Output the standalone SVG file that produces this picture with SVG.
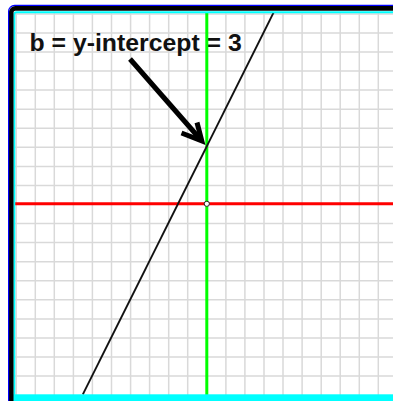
<svg xmlns="http://www.w3.org/2000/svg" width="393" height="401" viewBox="0 0 393 401">
<style>
.grid line{stroke:#d9d9d9;stroke-width:1.5}
.lbl{font-family:"Liberation Sans",Arial,sans-serif;font-weight:bold;font-size:24.8px;fill:#111}
.arrow{fill:none;stroke:#000;stroke-width:5}
</style>
<rect x="0" y="0" width="393" height="401" fill="#fff"/>
<g id="grid" class="grid">
<line x1="15" y1="13.9" x2="393" y2="13.9"/>
<line x1="15" y1="33" x2="393" y2="33"/>
<line x1="15" y1="52" x2="393" y2="52"/>
<line x1="15" y1="71.1" x2="393" y2="71.1"/>
<line x1="15" y1="90.1" x2="393" y2="90.1"/>
<line x1="15" y1="109.2" x2="393" y2="109.2"/>
<line x1="15" y1="128.2" x2="393" y2="128.2"/>
<line x1="15" y1="147.3" x2="393" y2="147.3"/>
<line x1="15" y1="166.4" x2="393" y2="166.4"/>
<line x1="15" y1="185.4" x2="393" y2="185.4"/>
<line x1="15" y1="223.6" x2="393" y2="223.6"/>
<line x1="15" y1="242.6" x2="393" y2="242.6"/>
<line x1="15" y1="261.7" x2="393" y2="261.7"/>
<line x1="15" y1="280.8" x2="393" y2="280.8"/>
<line x1="15" y1="299.8" x2="393" y2="299.8"/>
<line x1="15" y1="318.9" x2="393" y2="318.9"/>
<line x1="15" y1="337.9" x2="393" y2="337.9"/>
<line x1="15" y1="357" x2="393" y2="357"/>
<line x1="15" y1="376" x2="393" y2="376"/>
<line x1="16.2" y1="13" x2="16.2" y2="395"/>
<line x1="35.3" y1="13" x2="35.3" y2="395"/>
<line x1="54.3" y1="13" x2="54.3" y2="395"/>
<line x1="73.4" y1="13" x2="73.4" y2="395"/>
<line x1="92.4" y1="13" x2="92.4" y2="395"/>
<line x1="111.5" y1="13" x2="111.5" y2="395"/>
<line x1="130.6" y1="13" x2="130.6" y2="395"/>
<line x1="149.6" y1="13" x2="149.6" y2="395"/>
<line x1="168.7" y1="13" x2="168.7" y2="395"/>
<line x1="187.7" y1="13" x2="187.7" y2="395"/>
<line x1="225.9" y1="13" x2="225.9" y2="395"/>
<line x1="244.9" y1="13" x2="244.9" y2="395"/>
<line x1="264" y1="13" x2="264" y2="395"/>
<line x1="283" y1="13" x2="283" y2="395"/>
<line x1="302.1" y1="13" x2="302.1" y2="395"/>
<line x1="321.2" y1="13" x2="321.2" y2="395"/>
<line x1="340.2" y1="13" x2="340.2" y2="395"/>
<line x1="359.3" y1="13" x2="359.3" y2="395"/>
<line x1="378.3" y1="13" x2="378.3" y2="395"/>
</g>
<g id="label">
<text class="lbl" x="29.5" y="51">b = y-intercept = 3</text>
</g>
<g id="axes">
<line id="x-axis" x1="15" y1="203.8" x2="393" y2="203.8" stroke="#ff0000" stroke-width="3"/>
<line id="y-axis" x1="206.8" y1="13" x2="206.8" y2="395" stroke="#00ff00" stroke-width="3"/>
</g>
<g id="connectors">
<line id="graph-line" x1="82.8" y1="394.5" x2="273.6" y2="12.5" stroke="#111" stroke-width="1.8"/>
<path class="arrow" d="M130,59 L201,140"/>
<path class="arrow" d="M181.5,133 L201.8,140.8 L197,122.5" stroke-linejoin="miter"/>
</g>
<g id="origin">
<circle cx="206.8" cy="203.8" r="2.6" fill="#fff" stroke="#222" stroke-width="1"/>
</g>
<g id="frame">
<rect x="13" y="394.3" width="380" height="7" fill="#00ffff"/>
<rect x="14.3" y="12.3" width="400" height="400" rx="2" fill="none" stroke="#00ffff" stroke-width="2"/>
<rect x="11.2" y="8.4" width="400" height="420" rx="4" fill="none" stroke="#000" stroke-width="4.6"/>
<rect x="8.6" y="5.3" width="400" height="420" rx="6" fill="none" stroke="#0000ff" stroke-width="1.2"/>
</g>
</svg>
